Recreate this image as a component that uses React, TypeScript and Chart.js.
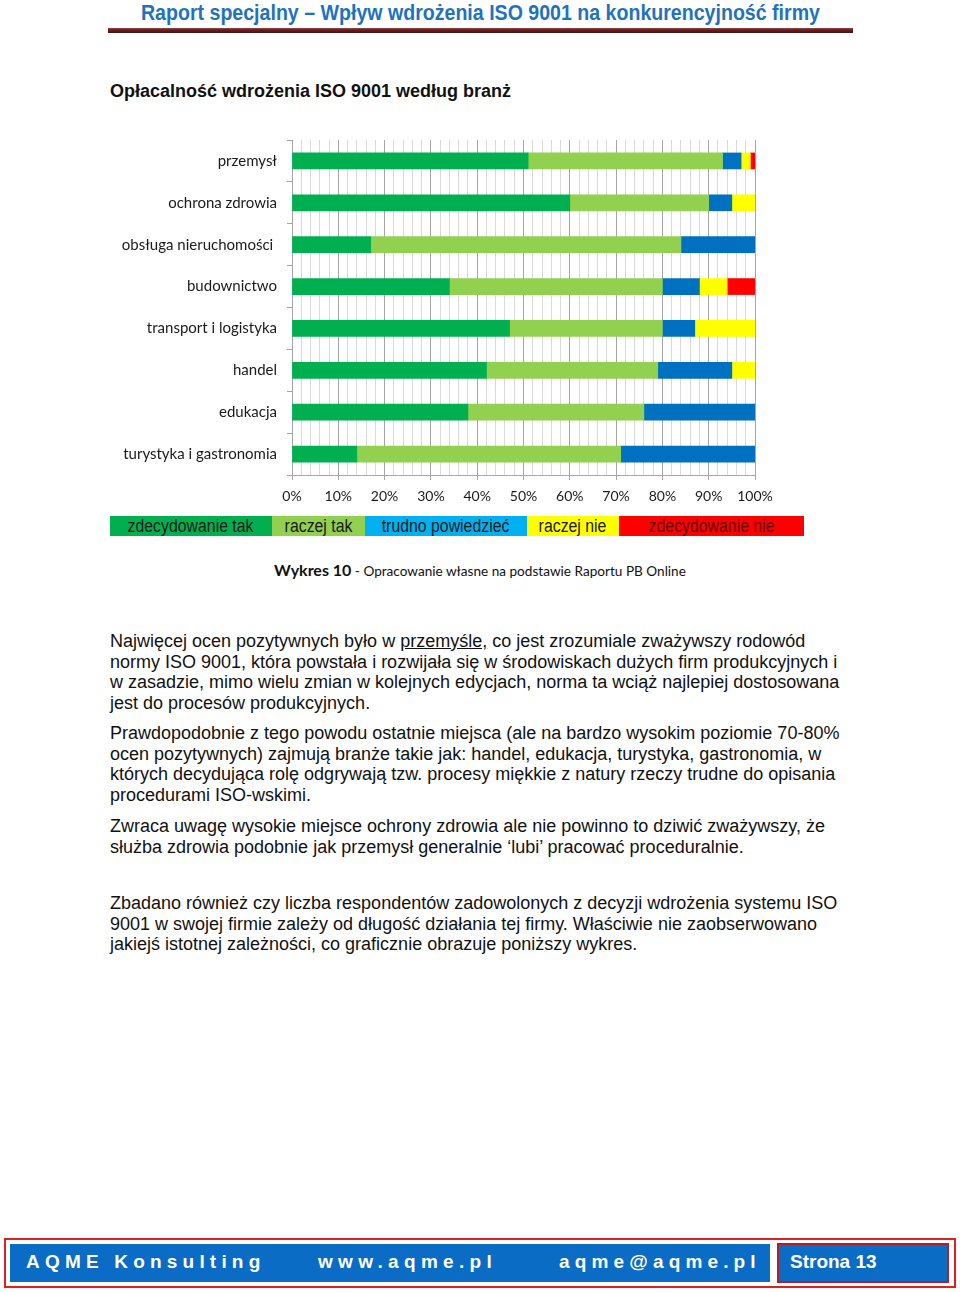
import React, { useEffect, useRef } from "react";
import { Chart, registerables } from "chart.js";

Chart.register(...registerables);

const CATEGORIES = [
  "przemysł",
  "ochrona zdrowia",
  "obsługa nieruchomości ",
  "budownictwo",
  "transport i logistyka",
  "handel",
  "edukacja",
  "turystyka i gastronomia",
];

const ZDECYDOWANIE_TAK = [51, 60, 17, 34, 47, 42, 38, 14];
const RACZEJ_TAK = [42, 30, 67, 46, 33, 37, 38, 57];
const TRUDNO_POWIEDZIEC = [4, 5, 16, 8, 7, 16, 24, 29];
const RACZEJ_NIE = [2, 5, 0, 6, 13, 5, 0, 0];
const ZDECYDOWANIE_NIE = [1, 0, 0, 6, 0, 0, 0, 0];

const SERIES_NAMES = ["zdecydowanie tak", "raczej tak", "trudno powiedzieć", "raczej nie", "zdecydowanie nie"];
const BAR_COLORS = ["#00b050", "#92d050", "#0070c0", "#ffff00", "#ff0000"];
const LEGEND_COLORS = ["#00b050", "#92d050", "#00b0f0", "#ffff00", "#ff0000"];
const LEGEND_WIDTHS = [162, 93, 162, 92, 185];

const X_MIN = 0;
const X_MAX = 100;
const X_STEP = 2;
const X_LABEL_EVERY = 10;

const HEADER = "Raport specjalny – Wpływ wdrożenia ISO 9001 na konkurencyjność firmy";
const TITLE = "Opłacalność wdrożenia ISO 9001 według branż";
const CAPTION_BOLD = "Wykres 10";
const CAPTION_REST = " - Opracowanie własne na podstawie Raportu PB Online";

const P1_LINES = [
  "normy ISO 9001, która powstała i rozwijała się w środowiskach dużych firm produkcyjnych i",
  "w zasadzie, mimo wielu zmian w kolejnych edycjach, norma ta wciąż najlepiej dostosowana",
  "jest do procesów produkcyjnych.",
];
const P2_LINES = [
  "Prawdopodobnie z tego powodu ostatnie miejsca (ale na bardzo wysokim poziomie 70-80%",
  "ocen pozytywnych) zajmują branże takie jak: handel, edukacja, turystyka, gastronomia, w",
  "których decydująca rolę odgrywają tzw. procesy miękkie z natury rzeczy trudne do opisania",
  "procedurami ISO-wskimi.",
];
const P3_LINES = [
  "Zwraca uwagę wysokie miejsce ochrony zdrowia ale nie powinno to dziwić zważywszy, że",
  "służba zdrowia podobnie jak przemysł generalnie ‘lubi’ pracować proceduralnie.",
];
const P4_LINES = [
  "Zbadano również czy liczba respondentów zadowolonych z decyzji wdrożenia systemu ISO",
  "9001 w swojej firmie zależy od długość działania tej firmy. Właściwie nie zaobserwowano",
  "jakiejś istotnej zależności, co graficznie obrazuje poniższy wykres.",
];

const FOOTER_ITEMS = ["AQME Konsulting", "www.aqme.pl", "aqme@aqme.pl"];
const FOOTER_PAGE = "Strona 13";

const BarChart: React.FC = () => {
  const ref = useRef<HTMLCanvasElement | null>(null);
  useEffect(() => {
    if (!ref.current) return;
    const seriesValues = [ZDECYDOWANIE_TAK, RACZEJ_TAK, TRUDNO_POWIEDZIEC, RACZEJ_NIE, ZDECYDOWANIE_NIE];
    const chart = new Chart(ref.current, {
      type: "bar",
      data: {
        labels: CATEGORIES,
        datasets: seriesValues.map((vals, i) => ({
          label: SERIES_NAMES[i],
          data: vals,
          backgroundColor: BAR_COLORS[i],
          borderWidth: 0,
          barThickness: 16,
        })),
      },
      options: {
        indexAxis: "y",
        animation: false,
        responsive: true,
        maintainAspectRatio: false,
        layout: { padding: { top: 9, right: 35, left: 0, bottom: 0 } },
        plugins: { legend: { display: false }, tooltip: { enabled: false } },
        scales: {
          x: {
            stacked: true,
            min: X_MIN,
            max: X_MAX,
            afterFit: (scale: any) => {
              scale.height = 35;
            },
            ticks: {
              stepSize: X_STEP,
              autoSkip: false,
              maxRotation: 0,
              padding: 8,
              color: "#1a1a1a",
              font: { family: "Lato", size: 14 },
              callback: (v: any) => (Number(v) % X_LABEL_EVERY === 0 ? v + "%" : ""),
            },
            grid: {
              color: (ctx: any) =>
                ctx.tick && ctx.tick.value % X_LABEL_EVERY === 0 ? "#a6a6a6" : "#d9d9d9",
              tickColor: (ctx: any) =>
                ctx.tick && ctx.tick.value % X_LABEL_EVERY === 0 ? "#a6a6a6" : "rgba(0,0,0,0)",
              tickLength: 5,
              lineWidth: 1,
            },
            border: { color: "#a6a6a6" },
          },
          y: {
            stacked: true,
            afterFit: (scale: any) => {
              scale.width = 192;
            },
            ticks: {
              padding: 10,
              color: "#1a1a1a",
              font: { family: "Lato", size: 15 },
            },
            grid: {
              offset: true,
              drawOnChartArea: false,
              drawTicks: true,
              tickLength: 5,
              color: "#a6a6a6",
            },
            border: { color: "#a6a6a6" },
          },
        },
      },
    });
    return () => chart.destroy();
  }, []);
  return (
    <div style={{ position: "absolute", left: 100, top: 121, width: 690, height: 389 }}>
      <canvas ref={ref} />
    </div>
  );
};

const paraStyle = (top: number): React.CSSProperties => ({
  position: "absolute",
  left: 110,
  top,
  fontFamily: "'Liberation Sans', Arial, sans-serif",
  fontSize: 18,
  lineHeight: "20.7px",
  color: "#111",
  whiteSpace: "nowrap",
});

const narrow = (scale: number): React.CSSProperties => ({
  display: "inline-block",
  transform: `scaleX(${scale})`,
  transformOrigin: "center",
  whiteSpace: "nowrap",
});

export default function App() {
  return (
    <div
      style={{
        position: "absolute",
        left: 0,
        top: 0,
        width: 960,
        height: 1292,
        background: "#fff",
        overflow: "hidden",
      }}
    >
      {/* Header */}
      <div
        style={{
          position: "absolute",
          left: 0,
          width: 960,
          top: 0,
          textAlign: "center",
          fontFamily: "'Liberation Sans', Arial, sans-serif",
          fontWeight: "bold",
          fontSize: 22,
          color: "#1f72bd",
          lineHeight: "26px",
        }}
      >
        <span style={narrow(0.89)}>{HEADER}</span>
      </div>
      <div
        style={{
          position: "absolute",
          left: 108,
          top: 28,
          width: 745,
          height: 5,
          background: "linear-gradient(#9a4a4a 0%, #6a1f1f 35%, #4a1212 100%)",
        }}
      />

      {/* Title */}
      <div
        style={{
          position: "absolute",
          left: 110,
          top: 80,
          fontFamily: "'Liberation Sans', Arial, sans-serif",
          fontWeight: "bold",
          fontSize: 18,
          lineHeight: "22px",
          color: "#111",
          whiteSpace: "nowrap",
        }}
      >
        {TITLE}
      </div>

      <BarChart />

      {/* Legend */}
      <div style={{ position: "absolute", left: 110, top: 516, height: 20, display: "flex" }}>
        {SERIES_NAMES.map((n, i) => (
          <div
            key={n}
            style={{
              width: LEGEND_WIDTHS[i],
              height: 20,
              background: LEGEND_COLORS[i],
              textAlign: "center",
              fontFamily: "'Liberation Sans', Arial, sans-serif",
              fontSize: 18,
              lineHeight: "20px",
              overflow: "hidden",
              color: i === 4 ? "#5a0000" : "#1a1a1a",
            }}
          >
            <span style={narrow(0.88)}>{n}</span>
          </div>
        ))}
      </div>

      {/* Caption */}
      <div
        style={{
          position: "absolute",
          left: 0,
          width: 960,
          top: 559,
          textAlign: "center",
          fontFamily: "Lato, sans-serif",
          color: "#111",
          lineHeight: "22px",
        }}
      >
        <span style={{ fontWeight: "bold", fontSize: 16 }}>{CAPTION_BOLD}</span>
        <span style={{ fontSize: 13.6 }}>{CAPTION_REST}</span>
      </div>

      {/* Paragraphs */}
      <div style={paraStyle(631)}>
        Najwięcej ocen pozytywnych było w <u>przemyśle,</u> co jest zrozumiale zważywszy rodowód
        {P1_LINES.map((l) => (
          <React.Fragment key={l}>
            <br />
            {l}
          </React.Fragment>
        ))}
      </div>
      <div style={paraStyle(723)}>
        {P2_LINES.map((l, i) => (
          <React.Fragment key={l}>
            {i > 0 && <br />}
            {l}
          </React.Fragment>
        ))}
      </div>
      <div style={paraStyle(816)}>
        {P3_LINES.map((l, i) => (
          <React.Fragment key={l}>
            {i > 0 && <br />}
            {l}
          </React.Fragment>
        ))}
      </div>
      <div style={paraStyle(893)}>
        {P4_LINES.map((l, i) => (
          <React.Fragment key={l}>
            {i > 0 && <br />}
            {l}
          </React.Fragment>
        ))}
      </div>

      {/* Footer */}
      <div
        style={{
          position: "absolute",
          left: 4,
          top: 1238,
          width: 952,
          height: 50,
          border: "2px solid #e02020",
          boxSizing: "border-box",
        }}
      />
      <div
        style={{
          position: "absolute",
          left: 10,
          top: 1244,
          width: 760,
          height: 38,
          background: "#0a6cc4",
        }}
      />
      {FOOTER_ITEMS.map((t, i) => (
        <div
          key={t}
          style={{
            position: "absolute",
            left: [26, 318, 559][i],
            top: 1251,
            fontFamily: "'Liberation Sans', Arial, sans-serif",
            fontWeight: "bold",
            fontSize: 19,
            letterSpacing: [5.2, 5.3, 5.15][i],
            color: "#fff",
            lineHeight: "22px",
            whiteSpace: "nowrap",
          }}
        >
          {t}
        </div>
      ))}
      <div
        style={{
          position: "absolute",
          left: 777,
          top: 1243,
          width: 172,
          height: 40,
          background: "#0a6cc4",
          border: "2px solid #b0202a",
          boxSizing: "border-box",
        }}
      />
      <div
        style={{
          position: "absolute",
          left: 790,
          top: 1251,
          fontFamily: "'Liberation Sans', Arial, sans-serif",
          fontWeight: "bold",
          fontSize: 19,
          color: "#fff",
          lineHeight: "22px",
          whiteSpace: "nowrap",
        }}
      >
        {FOOTER_PAGE}
      </div>
    </div>
  );
}
